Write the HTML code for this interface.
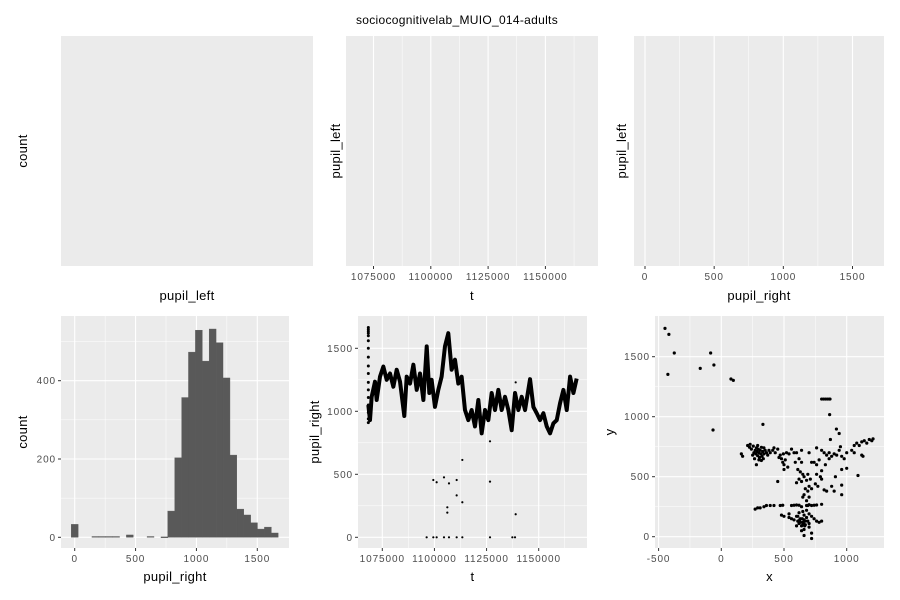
<!DOCTYPE html>
<html><head><meta charset="utf-8"><style>
body{margin:0;background:#fff;}
svg{display:block;font-family:"Liberation Sans",sans-serif;}
</style></head><body>
<svg id="c" width="900" height="600" xmlns="http://www.w3.org/2000/svg">
<text x="457" y="24" font-size="12" letter-spacing="0.3" text-anchor="middle">sociocognitivelab_MUIO_014-adults</text>
</svg>
<script>
// histogram data
const histCenters=[0,170,227,283,340,453,623,737,793,850,907,963,1020,1077,1133,1190,1247,1303,1360,1417,1473,1530,1587,1643];
const histCounts=[33,2,2,2,2,6,2,1,67,203,357,473,529,450,532,497,407,210,72,57,37,21,26,11];
const histBinWidth=56.7;
// time series
const tsT=[1068300,1069100,1069900,1071500,1072300,1073900,1075500,1077100,1078700,1080300,1081900,1083500,1085550,1086700,1088300,1089900,1091500,1093100,1094700,1096300,1097550,1098650,1100250,1101850,1103450,1105050,1106650,1108250,1109850,1111450,1113050,1114650,1116250,1117850,1119450,1121050,1122650,1124250,1125850,1127450,1129050,1130650,1132250,1133850,1135450,1137050,1138650,1140250,1141850,1143450,1145850,1147450,1149050,1150650,1152250,1153850,1155450,1157050,1158650,1160250,1161850,1163450,1165050,1166650,1168200];
const tsV=[1050,930,1115,1235,1090,1275,1355,1250,1300,1195,1330,1235,963,1275,1220,1370,1170,1300,1090,1515,1145,1250,1035,1170,1275,1515,1620,1330,1410,1220,1275,1010,930,1010,880,1090,825,1010,930,1145,1010,1170,1010,1115,1010,850,1145,1010,1115,1010,1255,1035,985,930,985,880,825,905,930,1065,1170,1010,1275,1145,1260];
const spikeT=1068300;
const spikeV=[1665,1650,1635,1620,1600,1560,1500,1430,1360,1300,1230,1170,1110,1050,990,940,910];
const outT=[1096267,1099464,1101063,1104582,1106980,1110658,1113376,1126648,1137361,1138640,1099464,1101063,1104582,1106980,1110658,1110658,1106181,1106181,1113376,1113376,1126648,1126648,1138960,1138960];
const outV=[0,0,0,0,0,0,0,0,0,0,455,437,476,428,455,333,238,196,278,614,762,442,183,1230];
// gaze scatter
const gazeX=[-449,-418,-375,-426,-168,-85,-59,77,96,-66,332,800,815,830,845,860,867,864,918,
210,225,240,255,260,270,275,280,285,290,295,300,305,310,315,320,325,330,335,340,350,360,370,380,390,250,265,300,320,280,160,170,230,290,340,
410,430,450,470,480,490,500,510,520,530,540,560,420,460,495,500,450,
600,620,640,610,630,650,620,600,640,660,680,700,670,690,720,650,680,660,700,690,710,740,760,780,760,790,750,770,800,720,700,640,580,590,
540,560,580,600,610,620,630,640,650,660,670,680,690,700,660,640,620,650,680,700,720,740,760,780,800,600,700,660,640,680,720,560,580,600,620,700,740,760,800,540,500,480,720,660,720,690,630,650,670,645,655,665,610,625,
270,290,310,340,360,390,420,470,490,
840,860,880,900,920,940,960,950,1000,1040,1060,1080,1100,1120,1140,1160,1180,1210,1200,1120,1130,1060,980,1000,960,910,880,900,840,820,960,960,1090,870,940,800,830,860,820,800,760];
const gazeY=[1736,1686,1531,1353,1403,1531,1431,1314,1303,889,936,1147,1147,1147,1147,1147,1147,1017,897,
760,745,730,755,700,720,690,740,710,675,730,700,660,720,690,745,670,710,650,690,720,700,680,720,700,680,650,640,635,600,690,670,770,760,740,
720,700,730,680,650,620,600,640,700,580,690,730,740,660,690,560,460,
700,650,620,560,540,520,480,450,460,500,470,420,400,380,400,330,300,350,330,520,480,620,600,640,520,500,440,420,480,620,700,720,700,620,
160,150,140,170,130,110,150,90,120,140,100,160,130,110,60,50,200,210,220,190,170,150,130,120,130,90,80,180,250,260,260,260,262,264,262,266,262,264,270,190,170,180,30,10,-15,260,120,100,130,150,110,90,170,140,
230,240,240,250,260,260,260,260,262,
680,700,670,690,680,720,670,750,700,720,760,780,760,790,800,780,810,815,800,680,670,700,650,570,560,500,420,380,380,390,430,350,510,810,860,550,600,650,700,720,740];

const svg=document.getElementById('c');
const NS='http://www.w3.org/2000/svg';
function mk(tag,attrs,parent){const e=document.createElementNS(NS,tag);for(const k in attrs)e.setAttribute(k,attrs[k]);(parent||svg).appendChild(e);return e;}
function lin(d0,d1,p0,p1){return v=>p0+(v-d0)*(p1-p0)/(d1-d0);}

function panel(name,x0,x1,y0,y1,opt){
  const g=mk('g',{});
  
  
  const bg=mk('rect',{x:x0,y:y0,width:x1-x0,height:y1-y0,fill:'#ebebeb'},g);
  
  
  if(opt.xs){
    (opt.xminor||[]).forEach(v=>mk('line',{x1:opt.xs(v),x2:opt.xs(v),y1:y0,y2:y1,stroke:'#fff','stroke-width':0.5},g));
    opt.xticks.forEach((v,i)=>{const p=opt.xs(v);
      mk('line',{x1:p,x2:p,y1:y0,y2:y1,stroke:'#fff','stroke-width':1.1},g);
      mk('line',{x1:p,x2:p,y1:y1,y2:y1+3,stroke:'#333','stroke-width':1},g);
      const t=mk('text',{x:p,y:y1+14,'font-size':10,'letter-spacing':0.9,fill:'#4d4d4d','text-anchor':'middle'},g);t.textContent=opt.xlabels[i];
      
      
    });
  }
  if(opt.ys){
    (opt.yminor||[]).forEach(v=>mk('line',{x1:x0,x2:x1,y1:opt.ys(v),y2:opt.ys(v),stroke:'#fff','stroke-width':0.5},g));
    opt.yticks.forEach((v,i)=>{const p=opt.ys(v);
      mk('line',{x1:x0,x2:x1,y1:p,y2:p,stroke:'#fff','stroke-width':1.1},g);
      mk('line',{x1:x0-3,x2:x0,y1:p,y2:p,stroke:'#333','stroke-width':1},g);
      const t=mk('text',{x:x0-5,y:p+3.5,'font-size':10,'letter-spacing':0.9,fill:'#4d4d4d','text-anchor':'end'},g);t.textContent=opt.ylabels[i];
      
      
    });
  }
  const xt=mk('text',{x:(x0+x1)/2,y:opt.xty,'font-size':13,'letter-spacing':0.3,'text-anchor':'middle'},g);xt.textContent=opt.xtitle;
  
  
  const yt=mk('text',{x:0,y:0,'font-size':13,'letter-spacing':0.3,'text-anchor':'middle',transform:`translate(${opt.ytx},${(y0+y1)/2}) rotate(-90)`},g);yt.textContent=opt.ytitle;
  
  
  return g;
}
// top row
panel('panel-pupil-left-hist',61,313,36,266,{xtitle:'pupil_left',xty:300,ytitle:'count',ytx:27});
const tTop=lin(1075000,1150000,373.5,545.4);
panel('panel-pupil-left-vs-t',346,598,36,266,{xs:tTop,xticks:[1075000,1100000,1125000,1150000],xlabels:['1075000','1100000','1125000','1150000'],xminor:[1062500,1087500,1112500,1137500,1162500],xtitle:'t',xty:300,ytitle:'pupil_left',ytx:340});
const prTop=lin(0,1500,645,852.5);
panel('panel-pupil-left-vs-right',634,884,36,266,{xs:prTop,xticks:[0,500,1000,1500],xlabels:['0','500','1000','1500'],xminor:[250,750,1250],xtitle:'pupil_right',xty:300,ytitle:'pupil_left',ytx:626});

// bottom-left histogram
const hx=lin(0,1500,74.7,257.3), hy=lin(0,400,537.3,380.7);
const g1=panel('panel-pupil-right-hist',61,289,316,548,{xs:hx,xticks:[0,500,1000,1500],xlabels:['0','500','1000','1500'],xminor:[250,750,1250],ys:hy,yticks:[0,200,400],ylabels:['0','200','400'],yminor:[100,300,500],xtitle:'pupil_right',xty:581,ytitle:'count',ytx:27});
histCenters.forEach((c,i)=>{
  const r=mk('rect',{x:hx(c-histBinWidth/2),y:hy(histCounts[i]),width:hx(c+histBinWidth/2)-hx(c-histBinWidth/2),height:Math.max(0.8,hy(0)-hy(histCounts[i])),fill:'#595959',stroke:'#595959','stroke-width':0.4},g1);
  
  
});

// bottom-middle time series
const tx=lin(1075000,1150000,382.3,538.7), ty=lin(0,1500,537.3,348.3);
const g2=panel('panel-pupil-right-vs-t',358,587,316,548,{xs:tx,xticks:[1075000,1100000,1125000,1150000],xlabels:['1075000','1100000','1125000','1150000'],xminor:[1062500,1087500,1112500,1137500,1162500],ys:ty,yticks:[0,500,1000,1500],ylabels:['0','500','1000','1500'],yminor:[250,750,1250],xtitle:'t',xty:581,ytitle:'pupil_right',ytx:319});
const pl=mk('polyline',{points:tsT.map((t,i)=>tx(t)+','+ty(tsV[i])).join(' '),fill:'none',stroke:'#000','stroke-width':4,'stroke-linejoin':'round'},g2);


spikeV.forEach(v=>{const c=mk('circle',{cx:tx(spikeT),cy:ty(v),r:1.5,fill:'#000'},g2);
  
  });
outT.forEach((t,i)=>{const c=mk('circle',{cx:tx(t),cy:ty(outV[i]),r:1.1,fill:'#000'},g2);
  
  });

// bottom-right gaze scatter
const gx=lin(0,1000,721.3,846.7), gy=lin(0,1500,536.7,356.7);
const g3=panel('panel-gaze-xy',655,884,316,548,{xs:gx,xticks:[-500,0,500,1000],xlabels:['-500','0','500','1000'],xminor:[-250,250,750],ys:gy,yticks:[0,500,1000,1500],ylabels:['0','500','1000','1500'],yminor:[250,750,1250],xtitle:'x',xty:581,ytitle:'y',ytx:614});
gazeX.forEach((x,i)=>{const c=mk('circle',{cx:gx(x),cy:gy(gazeY[i]),r:1.6,fill:'#000'},g3);
  
  });
</script>
</body></html>
